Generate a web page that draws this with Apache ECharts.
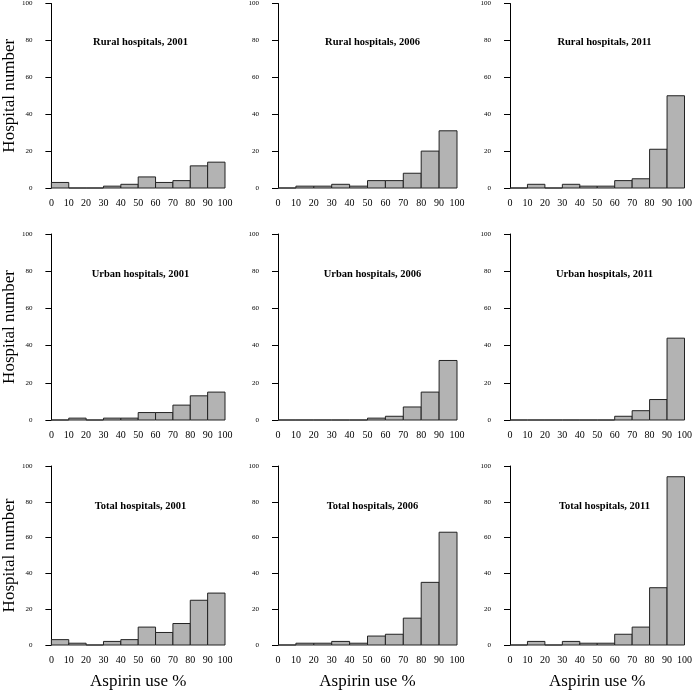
<!DOCTYPE html>
<html>
<head>
<meta charset="utf-8">
<script src="https://cdn.jsdelivr.net/npm/echarts@6/dist/echarts.min.js"></script>
<style>
html,body{margin:0;padding:0;background:#fff;}
#main{width:695px;height:691px;}
</style>
</head>
<body>
<div id="main"></div>
<script>
const binStarts = [0, 10, 20, 30, 40, 50, 60, 70, 80, 90];
const rural2001 = [3, 0, 0, 1, 2, 6, 3, 4, 12, 14];
const rural2006 = [0, 1, 1, 2, 1, 4, 4, 8, 20, 31];
const rural2011 = [0, 2, 0, 2, 1, 1, 4, 5, 21, 50];
const urban2001 = [0, 1, 0, 1, 1, 4, 4, 8, 13, 15];
const urban2006 = [0, 0, 0, 0, 0, 1, 2, 7, 15, 32];
const urban2011 = [0, 0, 0, 0, 0, 0, 2, 5, 11, 44];
const total2001 = [3, 1, 0, 2, 3, 10, 7, 12, 25, 29];
const total2006 = [0, 1, 1, 2, 1, 5, 6, 15, 35, 63];
const total2011 = [0, 2, 0, 2, 1, 1, 6, 10, 32, 94];

const panelTitles = [
  'Rural hospitals, 2001', 'Rural hospitals, 2006', 'Rural hospitals, 2011',
  'Urban hospitals, 2001', 'Urban hospitals, 2006', 'Urban hospitals, 2011',
  'Total hospitals, 2001', 'Total hospitals, 2006', 'Total hospitals, 2011'
];
const panelData = [rural2001, rural2006, rural2011, urban2001, urban2006, urban2011, total2001, total2006, total2011];
const yAxisName = 'Hospital number';
const xAxisName = 'Aspirin use %';

const colLeft = [46, 278, 510];
const rowTop = [2, 234, 466];
const gw = 179, gh = 186;
const FONT = '"Liberation Serif", "DejaVu Serif", serif';

const grids = [], xAxes = [], yAxes = [], series = [], titles = [];

function renderItem(params, api) {
  const x0 = api.value(0), x1 = api.value(1), y = api.value(2);
  const p0 = api.coord([x0, y]);
  const p1 = api.coord([x1, 0]);
  return {
    type: 'rect',
    shape: { x: p0[0], y: p0[1], width: p1[0] - p0[0], height: p1[1] - p0[1] },
    style: { fill: '#b3b3b3', stroke: '#222', lineWidth: 1 }
  };
}

for (let i = 0; i < 9; i++) {
  const r = Math.floor(i / 3), c = i % 3;
  grids.push({ left: colLeft[c], top: rowTop[r], width: gw, height: gh });
  xAxes.push({
    gridIndex: i, type: 'value', min: 0, max: 100, interval: 10,
    axisLine: { show: false }, axisTick: { show: false }, splitLine: { show: false },
    axisLabel: { color: '#000', fontFamily: FONT, fontSize: 10, margin: 10, showMinLabel: true, showMaxLabel: true },
    name: r === 2 ? xAxisName : '', nameLocation: 'middle', nameGap: 28,
    nameTextStyle: { color: '#000', fontFamily: FONT, fontSize: 17 }
  });
  yAxes.push({
    gridIndex: i, type: 'value', min: 0, max: 100, interval: 20, offset: 6,
    axisLine: { show: true, lineStyle: { color: '#000', width: 1 } },
    axisTick: { show: true, length: 6, lineStyle: { color: '#000', width: 1 } },
    splitLine: { show: false },
    axisLabel: { color: '#000', fontFamily: FONT, fontSize: 7, margin: 13 },
    name: c === 0 ? yAxisName : '', nameLocation: 'middle', nameGap: 26,
    nameTextStyle: { color: '#000', fontFamily: FONT, fontSize: 17 }
  });
  series.push({
    type: 'custom', xAxisIndex: i, yAxisIndex: i, renderItem: renderItem,
    data: binStarts.map((b, k) => [b, b + 10, panelData[i][k]]),
    encode: { x: [0, 1], y: 2 }, silent: true, animation: false
  });
  titles.push({
    text: panelTitles[i], left: colLeft[c] + gw / 2, top: rowTop[r] + 30, textAlign: 'center',
    textStyle: { fontFamily: FONT, fontSize: 10.5, fontWeight: 'bold', color: '#000' }
  });
}

const chart = echarts.init(document.getElementById('main'), null, { renderer: 'canvas' });
chart.setOption({
  backgroundColor: '#fff',
  animation: false,
  title: titles,
  grid: grids,
  xAxis: xAxes,
  yAxis: yAxes,
  series: series
});
</script>
</body>
</html>
